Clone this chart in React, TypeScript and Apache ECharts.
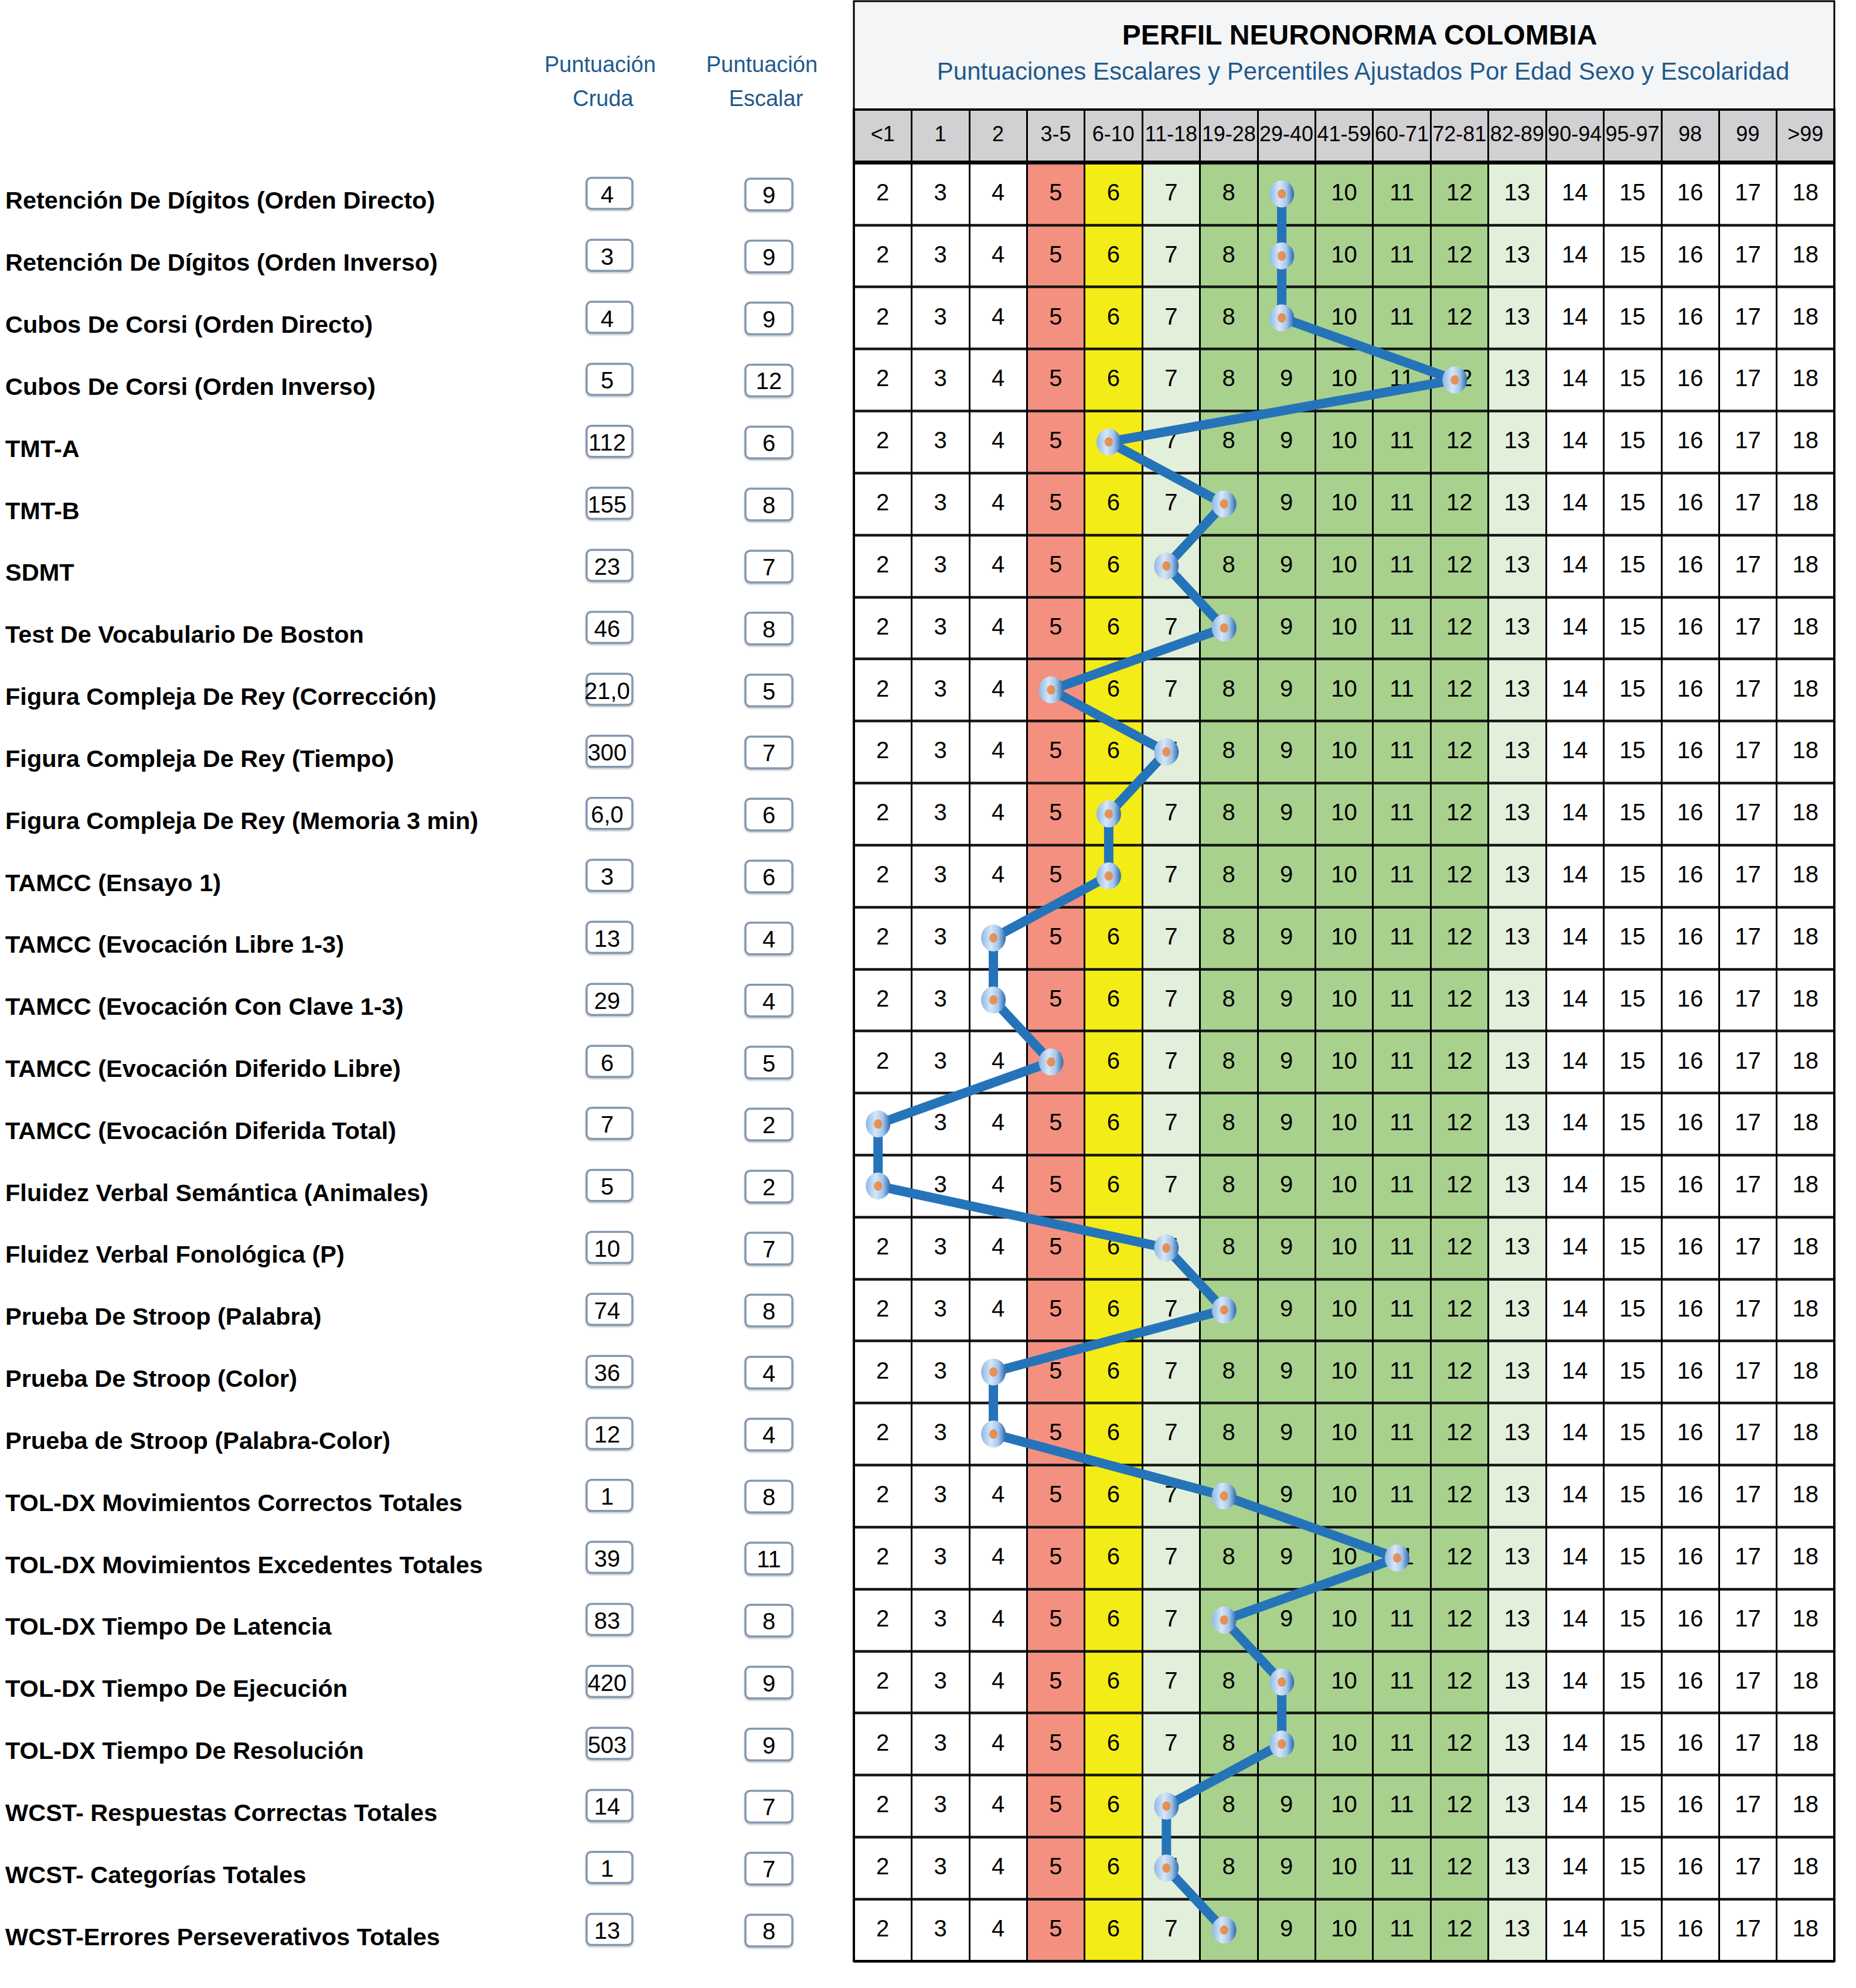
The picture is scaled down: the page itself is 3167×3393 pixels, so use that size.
import React, { useEffect, useRef } from "react";
import * as echarts from "echarts";

// ---------- data ----------
const percentiles = ["<1", "1", "2", "3-5", "6-10", "11-18", "19-28", "29-40", "41-59", "60-71", "72-81", "82-89", "90-94", "95-97", "98", "99", ">99"];
const scaleValues = [2, 3, 4, 5, 6, 7, 8, 9, 10, 11, 12, 13, 14, 15, 16, 17, 18];
const bandColors = ["#ffffff", "#ffffff", "#ffffff", "#f4907f", "#f4ec16", "#e2efda", "#a9d18e", "#a9d18e", "#a9d18e", "#a9d18e", "#a9d18e", "#e2efda", "#ffffff", "#ffffff", "#ffffff", "#ffffff", "#ffffff"];

const testNames = [
  "Retención De Dígitos (Orden Directo)",
  "Retención De Dígitos (Orden Inverso)",
  "Cubos De Corsi (Orden Directo)",
  "Cubos De Corsi (Orden Inverso)",
  "TMT-A",
  "TMT-B",
  "SDMT",
  "Test De Vocabulario De Boston",
  "Figura Compleja De Rey (Corrección)",
  "Figura Compleja De Rey (Tiempo)",
  "Figura Compleja De Rey (Memoria 3 min)",
  "TAMCC (Ensayo 1)",
  "TAMCC (Evocación Libre 1-3)",
  "TAMCC (Evocación Con Clave 1-3)",
  "TAMCC (Evocación Diferido Libre)",
  "TAMCC (Evocación Diferida Total)",
  "Fluidez Verbal Semántica (Animales)",
  "Fluidez Verbal Fonológica (P)",
  "Prueba De Stroop (Palabra)",
  "Prueba De Stroop (Color)",
  "Prueba de Stroop (Palabra-Color)",
  "TOL-DX Movimientos Correctos Totales",
  "TOL-DX Movimientos Excedentes Totales",
  "TOL-DX Tiempo De Latencia",
  "TOL-DX Tiempo De Ejecución",
  "TOL-DX Tiempo De Resolución",
  "WCST- Respuestas Correctas Totales",
  "WCST- Categorías Totales",
  "WCST-Errores Perseverativos Totales",
];
const rawScores = ["4", "3", "4", "5", "112", "155", "23", "46", "21,0", "300", "6,0", "3", "13", "29", "6", "7", "5", "10", "74", "36", "12", "1", "39", "83", "420", "503", "14", "1", "13"];
const scaledScores = [9, 9, 9, 12, 6, 8, 7, 8, 5, 7, 6, 6, 4, 4, 5, 2, 2, 7, 8, 4, 4, 8, 11, 8, 9, 9, 7, 7, 8];

const titleText = "PERFIL NEURONORMA COLOMBIA";
const subtitleText = "Puntuaciones Escalares y Percentiles Ajustados Por Edad Sexo y Escolaridad";
const rawHeader = ["Puntuación", "Cruda"];
const scaledHeader = ["Puntuación", "Escalar"];

// ---------- layout ----------
const W = 3167;
const H = 3393;
const TL = 1457;
const TW = 1673;
const TOP = 278;
const TH = 3069;
const HEAD_TOP = 187;
const HEAD_H = 91;
const FONT = '"Liberation Sans", Arial, Helvetica, sans-serif';
const BLUE = "#1f5a8c";

export default function App() {
  const ref = useRef<HTMLDivElement>(null);

  useEffect(() => {
    document.body.style.margin = "0";
    if (!ref.current) return;
    const chart = echarts.init(ref.current, null, { renderer: "svg" });

    const cellData: number[][] = [];
    testNames.forEach((_, r) => {
      scaleValues.forEach((v, c) => cellData.push([c, r, v]));
    });

    const markerFill = new echarts.graphic.LinearGradient(0, 0, 1, 0, [
      { offset: 0, color: "#8fb8e4" },
      { offset: 0.4, color: "#d6e7f7" },
      { offset: 0.7, color: "#a3c5e8" },
      { offset: 1, color: "#2a69ae" },
    ]);

    const option: any = {
      animation: false,
      backgroundColor: "#ffffff",
      grid: [
        { left: TL, top: TOP, width: TW, height: TH },
        { left: TL, top: HEAD_TOP, width: TW, height: HEAD_H, show: true, backgroundColor: "#d1d0d2", borderWidth: 0 },
        { left: 0, top: TOP, width: TL, height: TH },
      ],
      xAxis: [
        {
          gridIndex: 0, type: "category", data: percentiles, z: 3,
          axisLabel: { show: false }, axisTick: { show: false }, axisLine: { show: false },
          splitLine: { show: true, interval: 0, lineStyle: { color: "#000", width: 3 } },
        },
        { gridIndex: 0, type: "value", min: 1.581, max: 18.581, show: false },
        {
          gridIndex: 1, type: "category", data: percentiles, z: 3,
          axisLabel: { show: false }, axisTick: { show: false }, axisLine: { show: false },
          splitLine: { show: true, interval: 0, lineStyle: { color: "#000", width: 3 } },
        },
        { gridIndex: 2, type: "value", min: 0, max: 1, show: false },
      ],
      yAxis: [
        {
          gridIndex: 0, type: "category", data: testNames, inverse: true, z: 3,
          axisLabel: { show: false }, axisTick: { show: false }, axisLine: { show: false },
          splitLine: { show: true, interval: 0, lineStyle: { color: "#141414", width: 4.5 } },
        },
        { gridIndex: 1, type: "category", data: ["Percentil"], show: false },
        { gridIndex: 2, type: "category", data: testNames, inverse: true, show: false },
      ],
      graphic: [
        {
          type: "rect", z: 0,
          shape: { x: TL, y: 2, width: TW, height: HEAD_TOP - 2 },
          style: { fill: "#f4f5f7", stroke: "#000", lineWidth: 3 },
        },
        {
          type: "text", z: 1, x: 2320, y: 59,
          style: { text: titleText, font: `bold 48px ${FONT}`, fill: "#000", align: "center", verticalAlign: "middle" },
        },
        {
          type: "text", z: 1, x: 2326, y: 121,
          style: { text: subtitleText, font: `42px ${FONT}`, fill: BLUE, align: "center", verticalAlign: "middle" },
        },
        {
          type: "text", z: 1, x: 1024, y: 110,
          style: { text: rawHeader[0], font: `38px ${FONT}`, fill: BLUE, align: "center", verticalAlign: "middle" },
        },
        {
          type: "text", z: 1, x: 1029, y: 168,
          style: { text: rawHeader[1], font: `38px ${FONT}`, fill: BLUE, align: "center", verticalAlign: "middle" },
        },
        {
          type: "text", z: 1, x: 1300, y: 110,
          style: { text: scaledHeader[0], font: `38px ${FONT}`, fill: BLUE, align: "center", verticalAlign: "middle" },
        },
        {
          type: "text", z: 1, x: 1307, y: 168,
          style: { text: scaledHeader[1], font: `38px ${FONT}`, fill: BLUE, align: "center", verticalAlign: "middle" },
        },
        {
          type: "line", z: 20,
          shape: { x1: TL, y1: TOP - 1, x2: TL + TW, y2: TOP - 1 },
          style: { stroke: "#000", lineWidth: 6 },
        },
        {
          type: "rect", z: 20,
          shape: { x: TL, y: HEAD_TOP, width: TW, height: TOP + TH - HEAD_TOP },
          style: { fill: "none", stroke: "#000", lineWidth: 4 },
        },
      ],
      series: [
        {
          type: "custom", name: "celdas", xAxisIndex: 0, yAxisIndex: 0, z: 1, silent: true,
          data: cellData,
          renderItem: (params: any, api: any) => {
            const c = api.value(0) as number;
            const r = api.value(1) as number;
            const p = api.coord([c, r]);
            const sz = api.size([1, 1]) as number[];
            return {
              type: "group",
              children: [
                { type: "rect", shape: { x: p[0] - sz[0] / 2, y: p[1] - sz[1] / 2, width: sz[0], height: sz[1] }, style: { fill: bandColors[c] } },
                { type: "text", x: p[0], y: p[1] - 3, style: { text: String(api.value(2)), font: `40px ${FONT}`, fill: "#000", align: "center", verticalAlign: "middle" } },
              ],
            };
          },
        },
        {
          type: "custom", name: "percentiles", xAxisIndex: 2, yAxisIndex: 1, z: 1, silent: true,
          data: percentiles.map((_, i) => [i, 0]),
          renderItem: (params: any, api: any) => {
            const p = api.coord([api.value(0), 0]);
            return {
              type: "text", x: p[0], y: p[1] - 4,
              style: { text: percentiles[params.dataIndex], font: `36px ${FONT}`, fill: "#000", align: "center", verticalAlign: "middle" },
            };
          },
        },
        {
          type: "custom", name: "pruebas", xAxisIndex: 3, yAxisIndex: 2, z: 1, silent: true,
          data: testNames.map((_, i) => [0, i]),
          renderItem: (params: any, api: any) => {
            const i = params.dataIndex;
            const y = api.coord([0, api.value(1)])[1];
            const x0 = params.coordSys.x;
            const box = (cx: number, w: number, h: number, dy: number) => ({
              type: "rect",
              shape: { x: x0 + cx - w / 2, y: y + dy - h / 2, width: w, height: h, r: 8 },
              style: { fill: "#ffffff", stroke: "#8397b1", lineWidth: 3.5, shadowBlur: 3, shadowOffsetY: 2, shadowColor: "rgba(0,0,0,0.25)" },
            });
            return {
              type: "group",
              children: [
                { type: "text", x: x0 + 9, y: y + 11, style: { text: testNames[i], font: `bold 41.5px ${FONT}`, fill: "#000", align: "left", verticalAlign: "middle" } },
                box(1040, 78, 53, -1),
                { type: "text", x: x0 + 1036, y: y + 1, style: { text: rawScores[i], font: `40px ${FONT}`, fill: "#000", align: "center", verticalAlign: "middle" } },
                box(1312, 80, 54, 1),
                { type: "text", x: x0 + 1312, y: y + 2, style: { text: String(scaledScores[i]), font: `40px ${FONT}`, fill: "#000", align: "center", verticalAlign: "middle" } },
              ],
            };
          },
        },
        {
          type: "line", name: "Puntuación Escalar", xAxisIndex: 1, yAxisIndex: 0, z: 5, clip: false,
          data: scaledScores.map((s, i) => [s, i]),
          lineStyle: { color: "#2574b9", width: 16 },
          symbol: "circle", symbolSize: [42, 46], showAllSymbol: true,
          itemStyle: { color: markerFill, borderWidth: 0 },
        },
        {
          type: "scatter", name: "centro", xAxisIndex: 1, yAxisIndex: 0, z: 6, clip: false,
          data: scaledScores.map((s, i) => [s, i]),
          symbol: "circle", symbolSize: [14, 16],
          itemStyle: { color: "#ed7d31" },
        },
      ],
    };

    chart.setOption(option);
    return () => chart.dispose();
  }, []);

  return <div ref={ref} style={{ width: W, height: H }} />;
}
